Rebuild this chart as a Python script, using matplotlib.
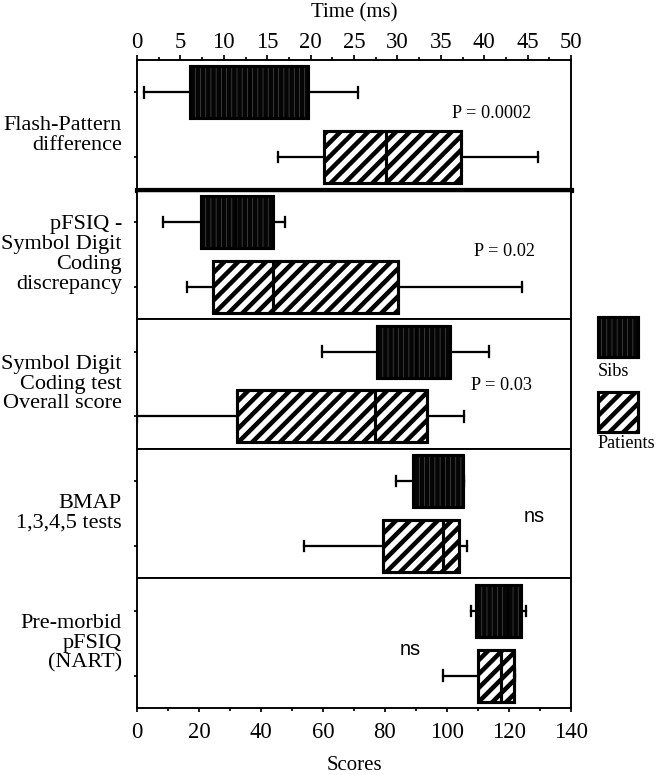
import matplotlib
matplotlib.use("Agg")
import matplotlib.pyplot as plt
from matplotlib.patches import Rectangle
from matplotlib.ticker import MultipleLocator

# Measures (top to bottom)
categories = [
    "Flash-Pattern\ndifference",
    "pFSIQ -\nSymbol Digit\nCoding\ndiscrepancy",
    "Symbol Digit\nCoding test\nOverall score",
    "BMAP\n1,3,4,5 tests",
    "Pre-morbid\npFSIQ\n(NART)",
]

# Sibs: whisker low, Q1, median, Q3, whisker high
sibs_low = [0.8, 8.4, 59.8, 83.5, 107.8]
sibs_q1 = [6.1, 20.6, 77.4, 89.0, 109.4]
sibs_med = [13.0, 32.0, 90.0, 98.8, 119.8]
sibs_q3 = [19.7, 44.0, 101.1, 105.3, 123.8]
sibs_high = [25.5, 47.8, 113.7, 105.5, 125.4]

# Patients: whisker low, Q1, median, Q3, whisker high
pat_low = [16.2, 16.1, 0.0, 53.9, 98.8]
pat_q1 = [21.6, 24.6, 32.1, 79.3, 110.0]
pat_med = [28.7, 44.0, 76.9, 98.8, 117.3]
pat_q3 = [37.3, 84.2, 93.4, 103.8, 121.5]
pat_high = [46.2, 124.1, 105.5, 106.5, 122.0]

significance = ["P = 0.0002", "P = 0.02", "P = 0.03", "ns", "ns"]

time_ticks = [0, 5, 10, 15, 20, 25, 30, 35, 40, 45, 50]
score_ticks = [0, 20, 40, 60, 80, 100, 120, 140]

# Placement of the significance notes (x in panel units, y in box units)
note_pos = [(40.9, 0.82), (118.4, 0.96), (117.7, 1.02), (128.0, 1.05), (88.0, 1.09)]
# Vertical anchor of each row label (axes fraction)
label_y = [0.42, 0.5, 0.5, 0.5, 0.5]

SERIF = "Liberation Serif"
SANS = "Liberation Sans"
plt.rcParams["font.family"] = SERIF
plt.rcParams["hatch.linewidth"] = 2.6

SIBS_FILL = "#050505"
SIBS_STREAK = "#4a4a4a"
SIBS_HATCH = "||||"
PAT_HATCH = "///"
BOX_LW = 1.8

DPI = 125
fig = plt.figure(figsize=(656 / DPI, 775 / DPI), dpi=DPI)

left, right = 137 / 656, 571 / 656
top, bottom = 1 - 60 / 775, 1 - 708 / 775
ph = (top - bottom) / 5


def stats(low, q1, med, q3, high):
    return dict(whislo=low, q1=q1, med=med, q3=q3, whishi=high, fliers=[])


def thin_hatch(patch, lw):
    if hasattr(patch, "set_hatch_linewidth"):
        patch.set_hatch_linewidth(lw)


axes = []
for i in range(5):
    ax = fig.add_axes([left, top - (i + 1) * ph, right - left, ph])
    axes.append(ax)
    ax.set_ylim(2, 0)
    if i == 0:
        ax.set_xlim(time_ticks[0], time_ticks[-1])
    else:
        ax.set_xlim(score_ticks[0], score_ticks[-1])

    s = stats(sibs_low[i], sibs_q1[i], sibs_med[i], sibs_q3[i], sibs_high[i])
    p = stats(pat_low[i], pat_q1[i], pat_med[i], pat_q3[i], pat_high[i])

    # Sibs: black fill with faint grey streaks, then outline and whiskers
    b = ax.bxp([s], positions=[0.5], widths=0.8, vert=False, patch_artist=True,
               showcaps=False, manage_ticks=False,
               boxprops=dict(facecolor=SIBS_FILL, edgecolor=SIBS_STREAK,
                             hatch=SIBS_HATCH, linewidth=0),
               whiskerprops=dict(linewidth=0), medianprops=dict(linewidth=0))
    for patch in b["boxes"]:
        thin_hatch(patch, 0.4)
    ax.bxp([s], positions=[0.5], widths=0.8, vert=False, patch_artist=True,
           manage_ticks=False, capwidths=0.16,
           boxprops=dict(facecolor="none", edgecolor="black", linewidth=BOX_LW),
           whiskerprops=dict(color="black", linewidth=1.3),
           capprops=dict(color="black", linewidth=1.3),
           medianprops=dict(color="black", linewidth=1.2))

    # Patients: hatched box
    b = ax.bxp([p], positions=[1.5], widths=0.8, vert=False, patch_artist=True,
               manage_ticks=False, capwidths=0.16,
               boxprops=dict(facecolor="white", edgecolor="black", hatch=PAT_HATCH,
                             linewidth=BOX_LW),
               whiskerprops=dict(color="black", linewidth=1.3),
               capprops=dict(color="black", linewidth=1.3),
               medianprops=dict(color="black", linewidth=BOX_LW))
    for patch in b["boxes"]:
        thin_hatch(patch, 2.6)

    ax.set_yticks([0.5, 1.5])
    ax.set_yticklabels([])
    ax.tick_params(axis="y", direction="out", length=2, width=1)
    for sp in ax.spines.values():
        sp.set_linewidth(1.1)

    ax.text(-0.035, label_y[i], categories[i], transform=ax.transAxes, ha="right",
            va="center", fontsize=12.8, linespacing=1.06, family=SERIF)

    nx, ny = note_pos[i]
    txt = significance[i]
    ax.text(nx, ny, txt, ha="center", va="center",
            fontsize=11.5 if txt == "ns" else 10.5,
            family=SANS if txt == "ns" else SERIF)

    ax.tick_params(axis="x", which="both", bottom=False, top=False,
                   labelbottom=False, labeltop=False)

# Top axis: time
ax0 = axes[0]
ax0.set_xticks(time_ticks)
ax0.xaxis.set_minor_locator(MultipleLocator(2.5))
ax0.tick_params(axis="x", which="both", top=True, labeltop=True, direction="out",
                labelsize=13, pad=1)
ax0.tick_params(axis="x", which="major", length=3, width=1)
ax0.tick_params(axis="x", which="minor", length=1.8, width=1)
ax0.xaxis.set_label_position("top")
ax0.set_xlabel("Time (ms)", fontsize=12, labelpad=8.5)
ax0.spines["bottom"].set_linewidth(3.0)
axes[1].spines["top"].set_linewidth(2.0)

# Bottom axis: scores
ax4 = axes[-1]
ax4.set_xticks(score_ticks)
ax4.xaxis.set_minor_locator(MultipleLocator(10))
ax4.tick_params(axis="x", which="both", bottom=True, labelbottom=True,
                direction="out", labelsize=13, pad=5.5)
ax4.tick_params(axis="x", which="major", length=2.5, width=1)
ax4.tick_params(axis="x", which="minor", length=1.8, width=1)
ax4.set_xlabel("Scores", fontsize=12, labelpad=7.5)

# Group key
W, H = 40 / 656, 40 / 775
kx = 598 / 656
r = Rectangle((kx, 1 - 357 / 775), W, H, transform=fig.transFigure,
              facecolor=SIBS_FILL, edgecolor=SIBS_STREAK, hatch=SIBS_HATCH,
              linewidth=0)
thin_hatch(r, 0.4)
fig.add_artist(r)
fig.add_artist(Rectangle((kx, 1 - 357 / 775), W, H, transform=fig.transFigure,
                         facecolor="none", edgecolor="black", linewidth=BOX_LW))
r = Rectangle((kx, 1 - 432 / 775), W, H, transform=fig.transFigure,
              facecolor="white", edgecolor="black", hatch=PAT_HATCH,
              linewidth=BOX_LW)
thin_hatch(r, 2.6)
fig.add_artist(r)
fig.text(kx, 1 - 372 / 775, "Sibs", ha="left", va="center", fontsize=10.5)
fig.text(kx, 1 - 444 / 775, "Patients", ha="left", va="center", fontsize=10.5)

fig.savefig("out.png", dpi=DPI)
